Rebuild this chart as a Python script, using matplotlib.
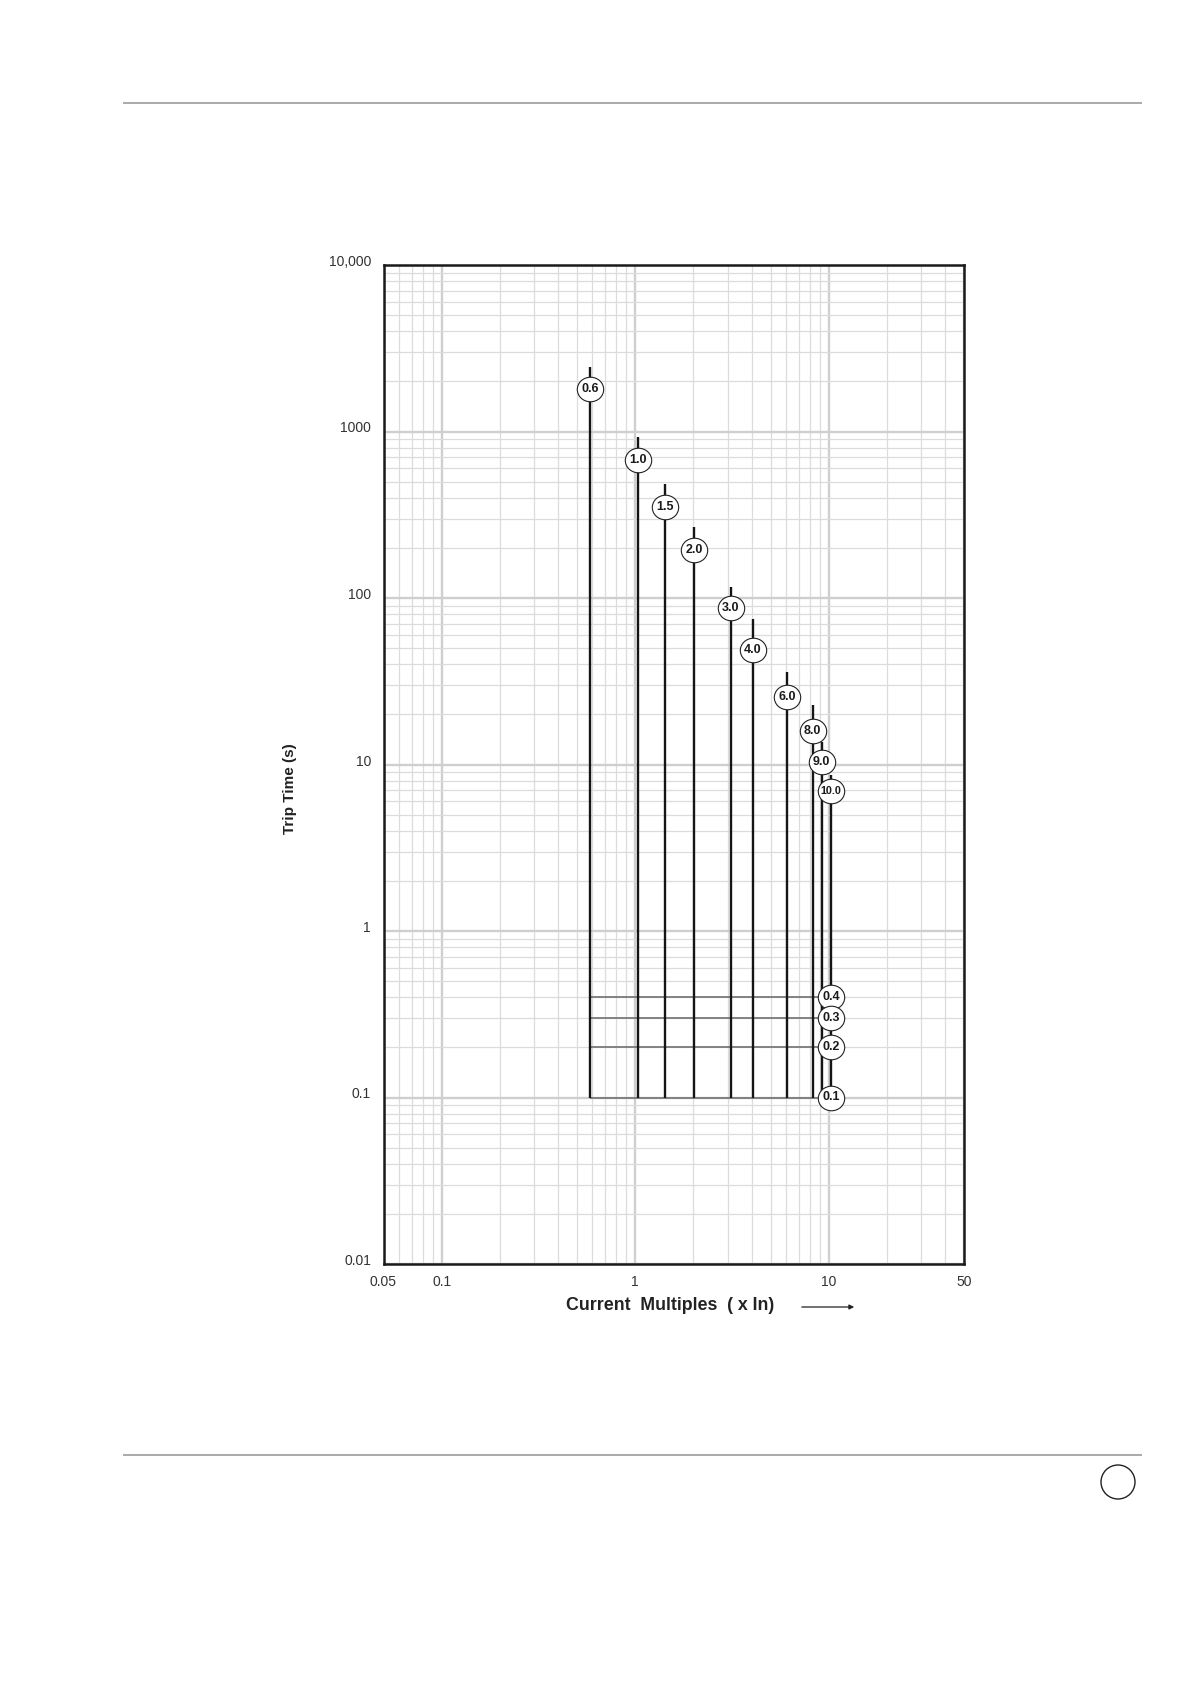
"""Trip-time curve sheet: long-time settings plus short-time delay bands, on log-log paper."""
import matplotlib
matplotlib.use("Agg")
import matplotlib.pyplot as plt
import matplotlib.transforms as mtransforms
from matplotlib.lines import Line2D
from matplotlib.patches import Ellipse, FancyArrowPatch
from matplotlib.path import Path
from matplotlib.ticker import FixedLocator, LogLocator, NullFormatter

# Long-time settings: label, x position of the curve (x In), curve top and tag height (s)
setting_labels = ["0.6", "1.0", "1.5", "2.0", "3.0", "4.0", "6.0", "8.0", "9.0", "10.0"]
curve_x = [0.586, 1.037, 1.43, 2.01, 3.11, 4.04, 6.11, 8.26, 9.20, 10.25]
curve_top = [2440, 930, 485, 268, 117, 75, 36, 22.8, 13.6, 8.7]
label_y = [1790, 672, 350, 193, 87, 49, 25.3, 16.0, 10.4, 6.9]
curve_floor = 0.1

# Short-time delay bands (s)
delays = [0.4, 0.3, 0.2, 0.1]
delay_labels = ["0.4", "0.3", "0.2", "0.1"]

x_ticks = [0.05, 0.1, 1, 10, 50]
x_tick_labels = ["0.05", "0.1", "1", "10", "50"]
y_ticks = [0.01, 0.1, 1, 10, 100, 1000, 10000]
y_tick_labels = ["0.01", "0.1", "1", "10", "100", "1000", "10,000"]

W, H = 1190, 1682
fig = plt.figure(figsize=(W / 100, H / 100), dpi=100)
plt.rcParams["font.family"] = ["Liberation Sans", "DejaVu Sans"]

ax = fig.add_axes([383.5 / W, 418 / H, 580.5 / W, 999 / H])
ax.set_xscale("log")
ax.set_yscale("log")
ax.set_xlim(0.05, 50)
ax.set_ylim(0.01, 10000)

# ── graph paper grid ─────────────────────────────────────────────
ax.xaxis.set_major_locator(FixedLocator(x_ticks))
ax.xaxis.set_minor_locator(LogLocator(base=10, subs=range(2, 10), numticks=20))
ax.yaxis.set_major_locator(FixedLocator(y_ticks))
ax.yaxis.set_minor_locator(LogLocator(base=10, subs=range(2, 10), numticks=20))
ax.xaxis.set_minor_formatter(NullFormatter())
ax.yaxis.set_minor_formatter(NullFormatter())
ax.set_xticklabels(x_tick_labels)
ax.set_yticklabels(y_tick_labels)
ax.grid(True, which="minor", color="#dcdcdc", linewidth=0.9)
ax.grid(True, which="major", color="#cfcfcf", linewidth=1.7)
ax.set_axisbelow(True)
ax.tick_params(which="both", length=0)
ax.tick_params(axis="x", pad=8, labelsize=10, labelcolor="#333333")
ax.tick_params(axis="y", pad=9, labelsize=10, labelcolor="#333333")
lift = mtransforms.ScaledTranslation(0, 4.5 / 100, fig.dpi_scale_trans)
for lab in ax.get_yticklabels():
    lab.set_transform(lab.get_transform() + lift)
for sp in ax.spines.values():
    sp.set_linewidth(1.8)
    sp.set_color("#1a1a1a")

# ── short-time delay bands ───────────────────────────────────────
for d in delays:
    ax.plot([curve_x[0], curve_x[-1]], [d, d], color="#7a7a7a",
            linewidth=1.3, zorder=3, solid_capstyle="butt")

# ── long-time curves ─────────────────────────────────────────────
for cx, top in zip(curve_x, curve_top):
    ax.plot([cx, cx], [curve_floor, top], color="#151515", linewidth=1.7,
            zorder=4, solid_capstyle="butt")

# slightly flattened ring for the tags
_ring = Path.unit_circle().transformed(mtransforms.Affine2D().scale(1.0, 0.93))


def _tag(x, y, text, size=9):
    ax.plot([x], [y], marker=_ring, markersize=19, markerfacecolor="white",
            markeredgecolor="#222222", markeredgewidth=0.8, zorder=6)
    ax.text(x, y, text, ha="center", va="center", fontsize=size,
            fontweight="bold", color="#1a1a1a", zorder=7)


for cx, ly, lab in zip(curve_x, label_y, setting_labels):
    _tag(cx, ly, lab, size=9 if len(lab) < 4 else 7.8)
for d, lab in zip(delays, delay_labels):
    _tag(curve_x[-1], d, lab)

# ── axis titles ──────────────────────────────────────────────────
fig.text(670 / W, 1 - 1306 / H, "Current  Multiples  ( x In)", ha="center",
         va="center", fontsize=12.8, fontweight="bold", color="#222222")
fig.add_artist(FancyArrowPatch(
    (799 / W, 1 - 1307 / H), (857 / W, 1 - 1307 / H),
    transform=fig.transFigure, arrowstyle="-|>", mutation_scale=7,
    color="#222222", linewidth=0.9))
fig.text(290 / W, 1 - 789 / H, "Trip Time (s)", ha="center", va="center",
         rotation=90, fontsize=11, fontweight="bold", color="#222222")

# ── page furniture ───────────────────────────────────────────────
for yy in (103, 1455):
    fig.add_artist(Line2D([124 / W, 1141 / W], [1 - yy / H, 1 - yy / H],
                          transform=fig.transFigure, color="#aaaaaa",
                          linewidth=1.4))
fig.add_artist(Ellipse((1118 / W, 1 - 1482 / H), 34 / W, 34 / H,
                       transform=fig.transFigure, facecolor="none",
                       edgecolor="#222222", linewidth=1.0))

fig.savefig("out.png", dpi=100)
